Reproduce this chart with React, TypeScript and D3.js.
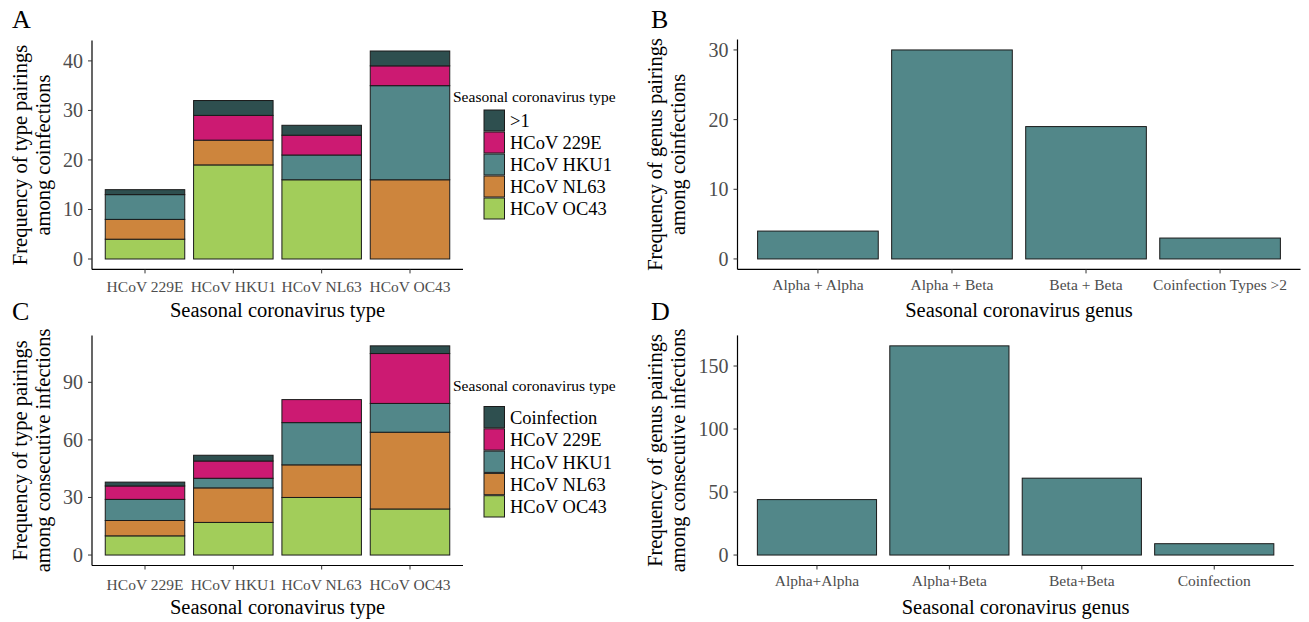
import React from "react";
import * as d3 from "d3";

// ---------- data ----------
const types = ["HCoV 229E", "HCoV HKU1", "HCoV NL63", "HCoV OC43"];

// Panel A: coinfections (stack bottom -> top: OC43, NL63, HKU1, 229E, >1)
const coinfOC43 = [4, 19, 16, 0];
const coinfNL63 = [4, 5, 0, 16];
const coinfHKU1 = [5, 0, 5, 19];
const coinf229E = [0, 5, 4, 4];
const coinfMulti = [1, 3, 2, 3];
const legendA = [">1", "HCoV 229E", "HCoV HKU1", "HCoV NL63", "HCoV OC43"];

// Panel C: consecutive infections
const consecOC43 = [10, 17, 30, 24];
const consecNL63 = [8, 18, 17, 40];
const consecHKU1 = [11, 5, 22, 15];
const consec229E = [7, 9, 12, 26];
const consecCoinf = [2, 3, 0, 4];
const legendC = ["Coinfection", "HCoV 229E", "HCoV HKU1", "HCoV NL63", "HCoV OC43"];

// Panel B
const genusB = ["Alpha + Alpha", "Alpha + Beta", "Beta + Beta", "Coinfection Types >2"];
const valuesB = [4, 30, 19, 3];
// Panel D
const genusD = ["Alpha+Alpha", "Alpha+Beta", "Beta+Beta", "Coinfection"];
const valuesD = [44, 166, 61, 9];

const ticksA = [0, 10, 20, 30, 40];
const ticksB = [0, 10, 20, 30];
const ticksC = [0, 30, 60, 90];
const ticksD = [0, 50, 100, 150];

// colours (legend order: multi, 229E, HKU1, NL63, OC43)
const legendColors = ["#2e4f4f", "#cc1a72", "#528789", "#cd853d", "#a2cd5a"];
const barColor = "#528789";

const FONT = "'Liberation Serif', 'Times New Roman', serif";

type PanelProps = {
  cats: string[];
  series: number[][]; // bottom -> top
  colors: string[];
  ticks: number[];
  x0: number;
  x1: number;
  y0: number; // top
  y1: number; // bottom
  xTitle: string;
  yTitle: [string, string];
  yTitleX: [number, number];
  tickLabelDy: number;
  titleDy: number;
  label: string;
  labelX: number;
  labelY: number;
};

function Panel(p: PanelProps) {
  const totals = p.cats.map((_, i) => p.series.reduce((s, a) => s + a[i], 0));
  const max = d3.max(totals) as number;
  const y = d3.scaleLinear().domain([-0.05 * max, max * 1.05]).range([p.y1, p.y0]);
  const x = d3.scaleBand<string>().domain(p.cats).range([p.x0, p.x1]).paddingInner(0.1).paddingOuter(0.15);

  const stackData = p.cats.map((c, i) => {
    const o: any = { cat: c };
    p.series.forEach((s, k) => (o["s" + k] = s[i]));
    return o;
  });
  const stack = d3.stack<any>().keys(p.series.map((_, k) => "s" + k))(stackData);
  const midY = (p.y0 + p.y1) / 2;

  return (
    <g>
      <text x={p.labelX} y={p.labelY} fontSize={26} fontFamily={FONT} fill="#000">
        {p.label}
      </text>
      {stack.map((layer, k) =>
        layer.map((d, i) =>
          d[1] - d[0] > 0 ? (
            <rect
              key={k + "-" + i}
              x={x(p.cats[i])}
              width={x.bandwidth()}
              y={y(d[1])}
              height={y(d[0]) - y(d[1])}
              fill={p.colors[k]}
              stroke="#1a1a1a"
              strokeWidth={1}
            />
          ) : null
        )
      )}
      {/* axes */}
      <line x1={p.x0} x2={p.x0} y1={p.y0} y2={p.y1} stroke="#000" strokeWidth={1.2} />
      <line x1={p.x0} x2={p.x1} y1={p.y1} y2={p.y1} stroke="#000" strokeWidth={1.2} />
      {p.ticks.map((t) => (
        <g key={"yt" + t}>
          <line x1={p.x0 - 4} x2={p.x0} y1={y(t)} y2={y(t)} stroke="#333" strokeWidth={1} />
          <text
            x={p.x0 - 9}
            y={y(t)}
            dy="0.35em"
            textAnchor="end"
            fontSize={20}
            fontFamily={FONT}
            fill="#4d4d4d"
          >
            {t}
          </text>
        </g>
      ))}
      {p.cats.map((c) => {
        const cx = (x(c) as number) + x.bandwidth() / 2;
        return (
          <g key={"xt" + c}>
            <line x1={cx} x2={cx} y1={p.y1} y2={p.y1 + 4} stroke="#333" strokeWidth={1} />
            <text
              x={cx}
              y={p.y1 + p.tickLabelDy}
              textAnchor="middle"
              fontSize={15.5}
              fontFamily={FONT}
              fill="#4d4d4d"
            >
              {c}
            </text>
          </g>
        );
      })}
      <text
        x={(p.x0 + p.x1) / 2}
        y={p.y1 + p.titleDy}
        textAnchor="middle"
        fontSize={20.5}
        fontFamily={FONT}
        fill="#000"
      >
        {p.xTitle}
      </text>
      {p.yTitle.map((t, j) => (
        <text
          key={"ytl" + j}
          transform={`translate(${p.yTitleX[j]},${midY}) rotate(-90)`}
          textAnchor="middle"
          fontSize={20.5}
          fontFamily={FONT}
          fill="#000"
        >
          {t}
        </text>
      ))}
    </g>
  );
}

function Legend(props: { x: number; titleY: number; keyY: number; step: number; labels: string[] }) {
  return (
    <g>
      <text x={props.x - 31} y={props.titleY} fontSize={15.5} fontFamily={FONT} fill="#000">
        Seasonal coronavirus type
      </text>
      {props.labels.map((l, i) => (
        <g key={l}>
          <rect
            x={props.x}
            y={props.keyY + i * props.step}
            width={20.5}
            height={props.step - 1}
            fill={legendColors[i]}
            stroke="#1a1a1a"
            strokeWidth={1}
          />
          <text
            x={props.x + 26}
            y={props.keyY + i * props.step + props.step / 2}
            dy="0.35em"
            fontSize={18.5}
            fontFamily={FONT}
            fill="#000"
          >
            {l}
          </text>
        </g>
      ))}
    </g>
  );
}

export default function App() {
  // stacking order bottom->top with colours
  const stackColors = [legendColors[4], legendColors[3], legendColors[2], legendColors[1], legendColors[0]];
  return (
    <svg
      width={1309}
      height={622}
      style={{ position: "absolute", left: 0, top: 0, background: "#fff" }}
    >
      <rect width={1309} height={622} fill="#fff" />
      <Panel
        cats={types}
        series={[coinfOC43, coinfNL63, coinfHKU1, coinf229E, coinfMulti]}
        colors={stackColors}
        ticks={ticksA}
        x0={92}
        x1={463}
        y0={40.6}
        y1={269.4}
        xTitle="Seasonal coronavirus type"
        yTitle={["Frequency of type pairings", "among coinfections"]}
        yTitleX={[27, 50]}
        tickLabelDy={22.5}
        titleDy={48}
        label="A"
        labelX={12}
        labelY={28}
      />
      <Legend x={484} titleY={102} keyY={110} step={22} labels={legendA} />
      <Panel
        cats={types}
        series={[consecOC43, consecNL63, consecHKU1, consec229E, consecCoinf]}
        colors={stackColors}
        ticks={ticksC}
        x0={92}
        x1={463}
        y0={335.4}
        y1={565.5}
        xTitle="Seasonal coronavirus type"
        yTitle={["Frequency of type pairings", "among consecutive infections"]}
        yTitleX={[27, 50]}
        tickLabelDy={24}
        titleDy={48}
        label="C"
        labelX={12}
        labelY={320}
      />
      <Legend x={484} titleY={391} keyY={406.5} step={22.3} labels={legendC} />
      <Panel
        cats={genusB}
        series={[valuesB]}
        colors={[barColor]}
        ticks={ticksB}
        x0={737.5}
        x1={1300.5}
        y0={39.5}
        y1={269.4}
        xTitle="Seasonal coronavirus genus"
        yTitle={["Frequency of  genus pairings", "among coinfections"]}
        yTitleX={[662, 685]}
        tickLabelDy={21}
        titleDy={48}
        label="B"
        labelX={651}
        labelY={28}
      />
      <Panel
        cats={genusD}
        series={[valuesD]}
        colors={[barColor]}
        ticks={ticksD}
        x0={737.5}
        x1={1293.7}
        y0={335.4}
        y1={565.5}
        xTitle="Seasonal coronavirus genus"
        yTitle={["Frequency of  genus pairings", "among consecutive infections"]}
        yTitleX={[662, 685]}
        tickLabelDy={20}
        titleDy={48}
        label="D"
        labelX={651}
        labelY={320}
      />
    </svg>
  );
}
